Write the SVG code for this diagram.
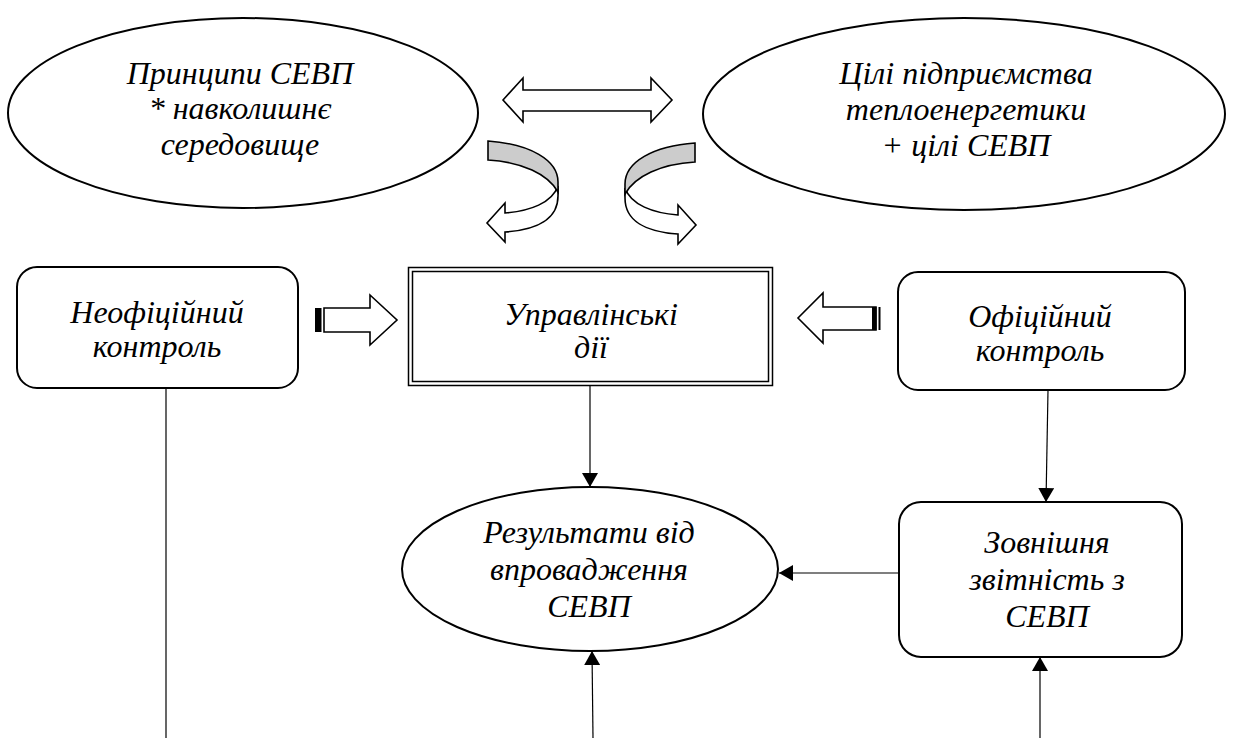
<svg xmlns="http://www.w3.org/2000/svg" width="1259" height="738" viewBox="0 0 1259 738">
  <defs>
    <style>
      .shape { fill: #ffffff; stroke: #000000; stroke-width: 2; }
      .block { fill: #ffffff; stroke: #000000; stroke-width: 1.6; stroke-linejoin: miter; }
      .band { fill: #cccccc; stroke: #000000; stroke-width: 1.6; }
      .label { font-family: "Liberation Serif", serif; font-style: italic; font-weight: normal; font-size: 32px; fill: #000000; text-anchor: middle; }
      .conn { fill: none; stroke: #000000; stroke-width: 1.2; }
    </style>
    <marker id="head" viewBox="0 0 14 16" refX="14" refY="8" markerWidth="14" markerHeight="16" markerUnits="userSpaceOnUse" orient="auto">
      <path d="M0,0 L14,8 L0,16 Z" fill="#000000"/>
    </marker>
    <!-- U-turn ribbon arrow, drawn once and mirrored -->
    <g id="uturn">
      <path class="block" d="M558,186 C552,203 530,211 505,213 L505,203 L487,223 L505,242 L505,232 C537,230 558,219 558,196 Z"/>
      <path class="band" d="M488,141 C530,144 558,160 558,182 L558,192 C548,174 522,162 488,160 Z"/>
    </g>
  </defs>

  <g id="principles">
    <ellipse class="shape" cx="243" cy="113" rx="235" ry="95"/>
    <text class="label" x="240" y="84">Принципи СЕВП</text>
    <text class="label" x="240" y="119">* навколишнє</text>
    <text class="label" x="240" y="155">середовище</text>
  </g>

  <g id="goals">
    <ellipse class="shape" cx="964" cy="114" rx="261" ry="96"/>
    <text class="label" x="966" y="84">Цілі підприємства</text>
    <text class="label" x="966" y="120">теплоенергетики</text>
    <text class="label" x="966" y="156">+ цілі СЕВП</text>
  </g>

  <g id="informal-control">
    <rect class="shape" x="17" y="267" width="281" height="121" rx="20" ry="20"/>
    <text class="label" x="157" y="323">Неофіційний</text>
    <text class="label" x="157" y="357">контроль</text>
  </g>

  <g id="management-actions">
    <rect x="408.5" y="267.5" width="364" height="118" fill="#ffffff" stroke="#000000" stroke-width="1.5"/>
    <rect x="412.5" y="271.5" width="356" height="110" fill="none" stroke="#000000" stroke-width="1.5"/>
    <text class="label" x="591" y="325">Управлінські</text>
    <text class="label" x="591" y="358">дії</text>
  </g>

  <g id="formal-control">
    <rect class="shape" x="898" y="272" width="287" height="118" rx="20" ry="20"/>
    <text class="label" x="1040" y="327">Офіційний</text>
    <text class="label" x="1040" y="361">контроль</text>
  </g>

  <g id="results">
    <ellipse class="shape" cx="590" cy="569" rx="188" ry="82"/>
    <text class="label" x="589" y="543">Результати від</text>
    <text class="label" x="589" y="580">впровадження</text>
    <text class="label" x="589" y="617">СЕВП</text>
  </g>

  <g id="external-reporting">
    <rect class="shape" x="899" y="502" width="283" height="155" rx="22" ry="22"/>
    <text class="label" x="1047" y="553">Зовнішня</text>
    <text class="label" x="1047" y="590">звітність з</text>
    <text class="label" x="1047" y="627">СЕВП</text>
  </g>

  <g id="connectors">
    <!-- two-way link between principles and goals -->
    <polygon class="block" points="503,100 523,78 523,90 651,90 651,78 672,100 651,122 651,111 523,111 523,122"/>
    <!-- ribbon arrows feeding the management actions -->
    <use href="#uturn"/>
    <use href="#uturn" transform="matrix(-1,0,0,1,1183,2)"/>
    <!-- striped block arrow from informal control -->
    <rect x="315" y="308" width="6.5" height="24" fill="#000000"/>
    <polygon class="block" points="324,308 370,308 370,295 397,320 370,345 370,332 324,332"/>
    <!-- striped block arrow from formal control -->
    <polygon class="block" points="876,307 823,307 823,293 798,318 823,343 823,330 876,330"/>
    <rect x="872" y="307" width="4.5" height="23" fill="#000000"/>
    <rect x="878.5" y="307" width="2" height="23" fill="#000000"/>
    <!-- plain connectors -->
    <line class="conn" x1="590" y1="386" x2="590" y2="487" marker-end="url(#head)"/>
    <line class="conn" x1="1048" y1="390" x2="1046" y2="502" marker-end="url(#head)"/>
    <line class="conn" x1="899" y1="573" x2="779" y2="573" marker-end="url(#head)"/>
    <line class="conn" x1="593" y1="738" x2="592" y2="651" marker-end="url(#head)"/>
    <line class="conn" x1="1040" y1="738" x2="1040" y2="657" marker-end="url(#head)"/>
    <line class="conn" x1="166" y1="388" x2="166" y2="738"/>
  </g>
</svg>
